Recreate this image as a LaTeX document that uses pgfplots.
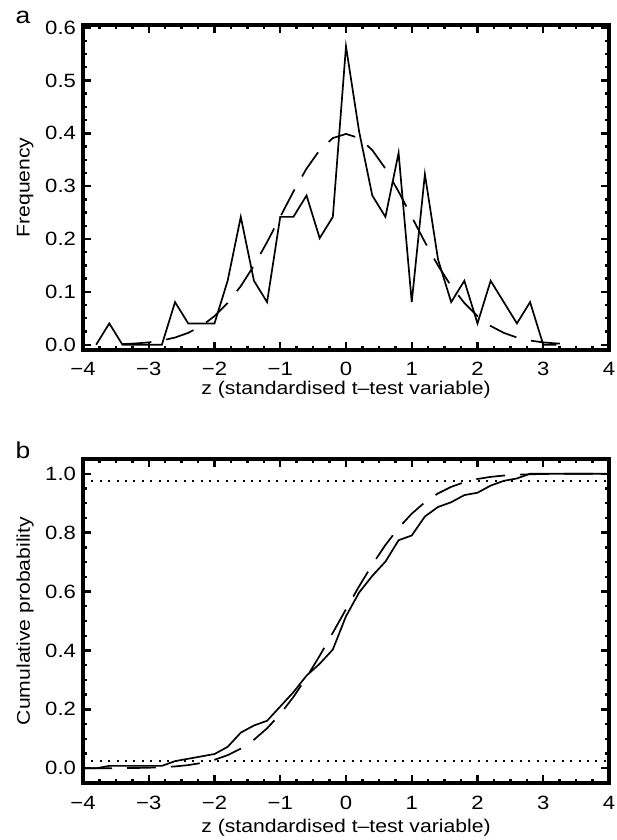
\documentclass[border=0pt]{standalone}
\usepackage{fontspec}
\setmainfont{Liberation Sans}[FakeStretch=1.15]
\usepackage{pgfplots}
\usepackage{pgfplotstable}
\pgfplotsset{compat=1.18}

\pgfplotstableread{
x y
-3.8 0
-3.6 0.0403
-3.4 0
-3.2 0
-3.0 0
-2.8 0
-2.6 0.0806
-2.4 0.0403
-2.2 0.0403
-2.0 0.0403
-1.8 0.1210
-1.6 0.2419
-1.4 0.1210
-1.2 0.0806
-1.0 0.2419
-0.8 0.2419
-0.6 0.2823
-0.4 0.2016
-0.2 0.2419
0.0 0.5645
0.2 0.4032
0.4 0.2823
0.6 0.2419
0.8 0.3629
1.0 0.0806
1.2 0.3226
1.4 0.1613
1.6 0.0806
1.8 0.1210
2.0 0.0403
2.2 0.1210
2.4 0.0806
2.6 0.0403
2.8 0.0806
3.0 0
3.2 0
}\histdata

\pgfplotstableread{
x y
-3.4 0.0012
-3.2 0.0024
-3.0 0.0044
-2.8 0.0079
-2.6 0.0136
-2.4 0.0224
-2.2 0.0355
-2.0 0.0540
-1.8 0.0790
-1.6 0.1109
-1.4 0.1497
-1.2 0.1942
-1.0 0.2420
-0.8 0.2897
-0.6 0.3332
-0.4 0.3683
-0.2 0.3910
0.0 0.3989
0.2 0.3910
0.4 0.3683
0.6 0.3332
0.8 0.2897
1.0 0.2420
1.2 0.1942
1.4 0.1497
1.6 0.1109
1.8 0.0790
2.0 0.0540
2.2 0.0355
2.4 0.0224
2.6 0.0136
2.8 0.0079
3.0 0.0044
3.2 0.0024
3.4 0.0012
}\pdfdata

\pgfplotstableread{
x y
-4.0 0
-3.8 0
-3.6 0.0081
-3.4 0.0081
-3.2 0.0081
-3.0 0.0081
-2.8 0.0081
-2.6 0.0242
-2.4 0.0323
-2.2 0.0403
-2.0 0.0484
-1.8 0.0726
-1.6 0.1210
-1.4 0.1452
-1.2 0.1613
-1.0 0.2097
-0.8 0.2581
-0.6 0.3145
-0.4 0.3548
-0.2 0.4032
0.0 0.5161
0.2 0.5968
0.4 0.6532
0.6 0.7016
0.8 0.7742
1.0 0.7903
1.2 0.8548
1.4 0.8871
1.6 0.9032
1.8 0.9274
2.0 0.9355
2.2 0.9597
2.4 0.9758
2.6 0.9839
2.8 1.0
3.0 1.0
4.0 1.0
}\cumdata

\pgfplotstableread{
x y
-4.0 0.00005
-3.8 0.00011
-3.6 0.00023
-3.4 0.00048
-3.2 0.00097
-3.0 0.00187
-2.8 0.00347
-2.6 0.00621
-2.4 0.01072
-2.2 0.01786
-2.0 0.02872
-1.8 0.04457
-1.6 0.06681
-1.4 0.09680
-1.2 0.13567
-1.0 0.18406
-0.8 0.24196
-0.6 0.30854
-0.4 0.38209
-0.2 0.46017
0.0 0.53983
0.2 0.61791
0.4 0.69146
0.6 0.75804
0.8 0.81594
1.0 0.86433
1.2 0.90320
1.4 0.93319
1.6 0.95543
1.8 0.97128
2.0 0.98214
2.2 0.98928
2.4 0.99379
2.6 0.99653
2.8 0.99813
3.0 0.99903
3.2 0.99952
3.4 0.99977
3.6 0.99989
3.8 0.99995
4.0 0.99998
}\cdfdata

\pgfplotsset{
  panel/.style={
    scale only axis,
    width=263pt,
    xmin=-4, xmax=4,
    xtick={-4,-3,-2,-1,0,1,2,3,4},
    xticklabels={−4,−3,−2,−1,0,1,2,3,4},
    minor x tick num=3,
    minor y tick num=3,
    tick align=inside,
    major tick length=3.8pt,
    minor tick length=2pt,
    axis line style={line width=1.8pt},
    every tick/.style={black, line width=1.2pt},
    tick label style={font=\fontsize{9.6}{11}\selectfont},
    label style={font=\fontsize{9.2}{11}\selectfont},
    /pgf/number format/assume math mode=true,
    yticklabel style={/pgf/number format/.cd, fixed, fixed zerofill, precision=1},
    xticklabel style={anchor=base, yshift=-13pt},
    ylabel style={at={(axis description cs:-0.110,0.5)}, anchor=center},
    clip=false,
  },
  solid line/.style={black, line width=0.85pt, line join=miter},
  dash line/.style={black, line width=0.85pt, dash pattern=on 14.5pt off 7.5pt},
}

\begin{document}
\begin{tikzpicture}
\path[use as bounding box] (0pt,0pt) rectangle (308pt,420pt);

\begin{axis}[panel,
  at={(41.5pt,245pt)}, anchor=south west,
  height=162.5pt,
  ymin=-0.01, ymax=0.605,
  ytick={0,0.1,0.2,0.3,0.4,0.5,0.6},
  xlabel={z (standardised t–test variable)},
  xlabel style={at={(axis description cs:0.5,0)}, anchor=base, yshift=-22.5pt},
  ylabel={Frequency},
]
\addplot[solid line] table[x=x,y=y] {\histdata};
\addplot[dash line] table[x=x,y=y] {\pdfdata};
\node[font=\fontsize{11.5}{14}\selectfont, anchor=center] at (axis description cs:-0.114,1.022) {a};
\end{axis}

\begin{axis}[panel,
  at={(41.5pt,28.5pt)}, anchor=south west,
  height=162pt,
  ymin=-0.05, ymax=1.05,
  ytick={0,0.2,0.4,0.6,0.8,1.0},
  xlabel={z (standardised t–test variable)},
  xlabel style={at={(axis description cs:0.5,0)}, anchor=base, yshift=-25pt},
  ylabel={Cumulative probability},
]
\addplot[black, line width=0.7pt, dash pattern=on 1pt off 3.2pt] coordinates {(-4,0.975) (4,0.975)};
\addplot[black, line width=0.7pt, dash pattern=on 1pt off 3.2pt] coordinates {(-4,0.025) (4,0.025)};
\addplot[solid line] table[x=x,y=y] {\cumdata};
\addplot[dash line] table[x=x,y=y] {\cdfdata};
\node[font=\fontsize{11.5}{14}\selectfont, anchor=center] at (axis description cs:-0.114,1.028) {b};
\end{axis}
\end{tikzpicture}
\end{document}
